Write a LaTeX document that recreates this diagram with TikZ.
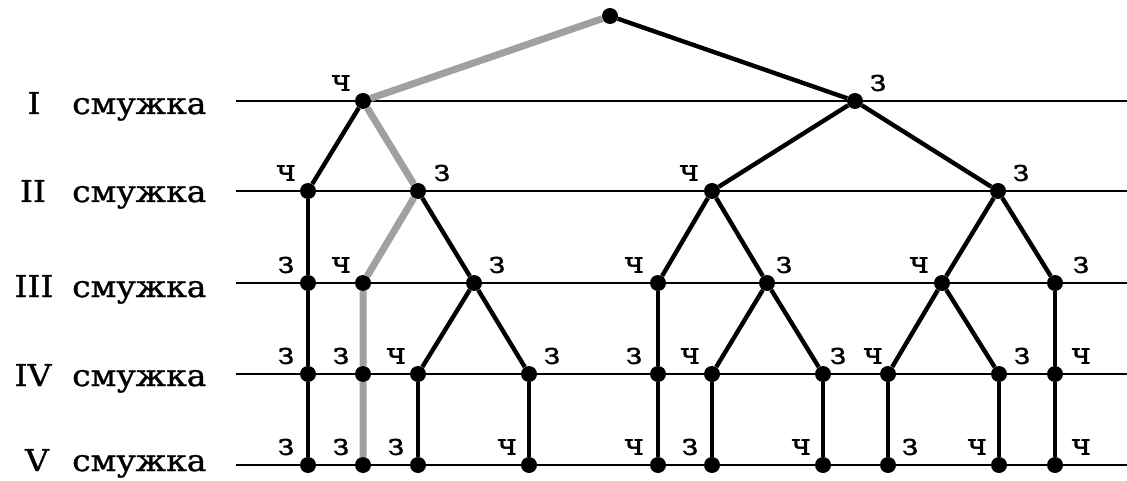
\documentclass[tikz,border=0pt]{standalone}
\usepackage{fontspec}
\setmainfont{DejaVu Serif}
\newfontfamily\markfont[FakeBold=1]{DejaVu Serif}
\newfontfamily\bandfont[FakeBold=1,FakeStretch=1.1]{DejaVu Serif}
\definecolor{pathgray}{RGB}{158,161,164}
\begin{document}
\begin{tikzpicture}[x=1pt,y=-1pt,
  dot/.style={circle,fill=black,inner sep=0pt,minimum size=16pt},
  band/.style={line width=2.7pt},
  edge/.style={line width=4.4pt},
  gedge/.style={line width=7pt,pathgray},
  lbl/.style={font=\markfont\fontsize{30}{30}\selectfont,inner sep=0pt},
  side/.style={font=\bandfont\fontsize{30}{30}\selectfont,inner sep=0pt}]
  \useasboundingbox (0,0) rectangle (1127,481);
  % bands
  \foreach \n/\y/\b/\r in {I/101/114/34,II/191/202/33,III/283/297/34,IV/374/386/33,V/465/471/37} {
    \coordinate (l\n) at (236,\y);
    \coordinate (r\n) at (1127,\y);
    \draw[band] (l\n) -- (r\n);
    \node[side,anchor=base] (num\n) at (\r,\b) {\n};
    \node[side,anchor=base west] (word\n) at (72,\b) {смужка};
  }
  % tree
  \node[dot] (top) at (610,16) {};
  \foreach \n/\x/\y/\t/\d in {
      a1/363/101/ч/-22, a2/855/101/з/23,
      b1/308/191/ч/-22, b2/418/191/з/24, b3/712/191/ч/-23, b4/998/191/з/23,
      c1/308/283/з/-22, c2/363/283/ч/-22, c3/474/283/з/23, c4/658/283/ч/-24,
      c5/767/283/з/17, c6/942/283/ч/-23, c7/1055/283/з/26,
      d1/308/374/з/-22, d2/363/374/з/-22, d3/418/374/ч/-22, d4/529/374/з/23,
      d5/658/374/з/-24, d6/712/374/ч/-22, d7/823/374/з/15, d8/888/374/ч/-15,
      d9/999/374/з/23, d10/1055/374/ч/26,
      e1/308/465/з/-22, e2/363/465/з/-22, e3/418/465/з/-22, e4/529/465/ч/-22,
      e5/658/465/ч/-24, e6/712/465/з/-22, e7/823/465/ч/-22, e8/888/465/з/22,
      e9/999/465/ч/-22, e10/1055/465/ч/26} {
    \node[dot,label={[lbl,shift={(\d,-18)}]center:\t}] (\n) at (\x,\y) {};
  }
  \foreach \p/\q in {top/a2, a1/b1, a2/b3, a2/b4, b1/c1, c1/d1, d1/e1,
      b2/c3, c3/d3, c3/d4, d3/e3, d4/e4, b3/c4, b3/c5, c4/d5, d5/e5,
      c5/d6, c5/d7, d6/e6, d7/e7, b4/c6, b4/c7, c6/d8, c6/d9, c7/d10,
      d8/e8, d9/e9, d10/e10}
    \draw[edge] (\p) -- (\q);
  % highlighted path
  \draw[gedge] (top) -- (a1) -- (b2) -- (c2) -- (d2) -- (e2);
\end{tikzpicture}
\end{document}
